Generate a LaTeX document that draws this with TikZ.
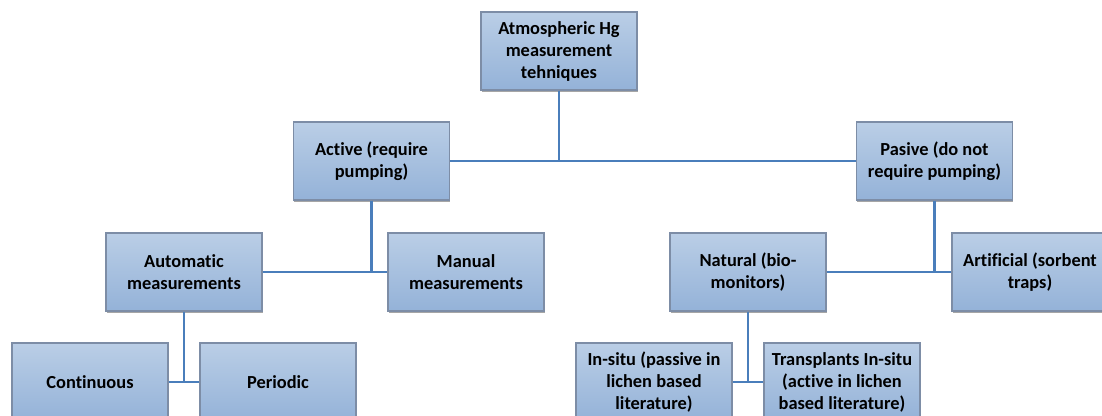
\documentclass[tikz,border=0pt]{standalone}
\usepackage{fontspec}
\setmainfont{Carlito}[Ligatures=NoCommon]
\usetikzlibrary{shadows}
\definecolor{boxtop}{HTML}{BACEE6}
\definecolor{boxbot}{HTML}{94B2D8}
\definecolor{boxline}{HTML}{7D8DA6}
\definecolor{linkblue}{HTML}{4A7EBB}
\begin{document}
\begin{tikzpicture}
  [x=0.75pt,y=-0.75pt,
   every node/.style={rectangle,draw=boxline,line width=0.8pt,
     top color=boxtop,bottom color=boxbot,
     drop shadow={shadow xshift=0.4pt,shadow yshift=-1.2pt,opacity=0.35,fill=black},
     minimum width=117pt,minimum height=58.5pt,inner sep=2pt,align=center,
     font=\bfseries\fontsize{13.8}{16.5}\selectfont}]
  \useasboundingbox (0,0) rectangle (1102,416);
  \begin{scope}
  \clip (0,0) rectangle (1102,416);
  \node (top) at (559,51) {Atmospheric Hg\\measurement\\tehniques};
  \node (active) at (371.5,161) {Active (require\\pumping)};
  \node (pasive) at (934.5,161) {Pasive (do not\\require pumping)};
  \node (auto) at (184,272) {Automatic\\measurements};
  \node (manual) at (466,272) {Manual\\measurements};
  \node (natural) at (748,272) {Natural (bio-\\monitors)};
  \node (artif) at (1030,272) {Artificial (sorbent\\traps)};
  \node (cont) at (90,382) {Continuous};
  \node (period) at (278,382) {Periodic};
  \node (insitu) at (654,382) {In-situ (passive in\\lichen based\\literature)};
  \node (transpl) at (842,382) {Transplants In-situ\\(active in lichen\\based literature)};
 \path[draw,linkblue,line width=2.2pt]
        (active) -- (pasive)
        (top) -- (top |- active)
        (auto) -- (manual)
        (active) -- (active |- manual)
        (natural) -- (artif)
        (pasive) -- (pasive |- artif)
        (cont) -- (period)
        (auto) -- (auto |- cont)
        (insitu) -- (transpl)
        (natural) -- (natural |- insitu);
  \end{scope}

\end{tikzpicture}
\end{document}
